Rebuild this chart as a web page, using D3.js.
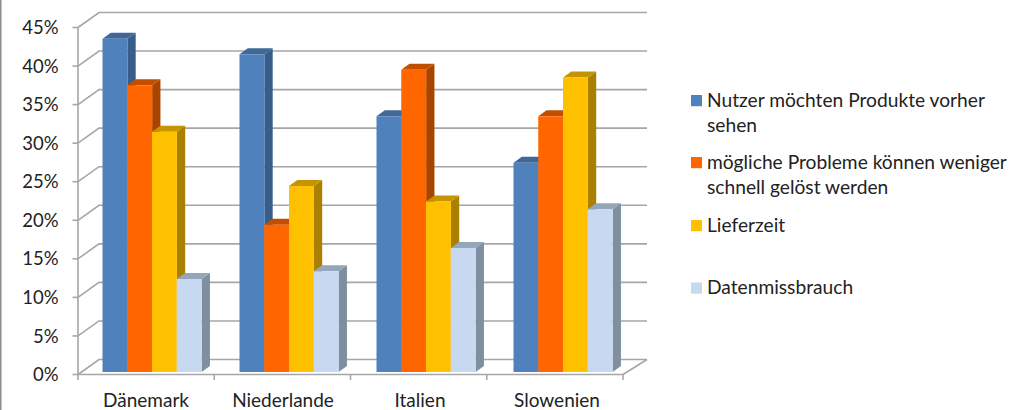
<!DOCTYPE html>
<html><head><meta charset="utf-8">
<script src="https://cdn.jsdelivr.net/npm/d3@7"></script>
<style>
html,body{margin:0;padding:0;background:#fff}
svg{display:block}
text{font-family:Lato,"Open Sans",sans-serif;fill:#222}
</style></head><body>
<svg id="c" width="1030" height="410"></svg>
<script>
const categories=["Dänemark","Niederlande","Italien","Slowenien"];
const seriesNames=["Nutzer möchten Produkte vorher sehen","mögliche Probleme können weniger schnell gelöst werden","Lieferzeit","Datenmissbrauch"];
const nutzer=[43,41,33,27];
const probleme=[37,19,39,33];
const lieferzeit=[31,24,22,38];
const datenmissbrauch=[12,13,16,21];
const tickValues=[0,5,10,15,20,25,30,35,40,45];
const legendLines=[["Nutzer möchten Produkte vorher","sehen"],["mögliche Probleme können weniger","schnell gelöst werden"],["Lieferzeit"],["Datenmissbrauch"]];
const legendY=[100,162,225,287.5];
const seriesValues=[nutzer,probleme,lieferzeit,datenmissbrauch];
const front=["#4f81bd","#ff6600","#ffc000","#c6d9f1"];
const side=["#385d8a","#a84300","#a98000","#7f8fa0"];
const topc=["#3f6797","#c24e00","#c49500","#95a6ba"];
const svg=d3.select("#c");
svg.append("rect").attr("x",0).attr("y",0).attr("width",1.5).attr("height",410).attr("fill","#8c8c8c");
const x=d3.scaleBand().domain(categories).range([78,623]);
const xBar=d3.scaleBand().domain(categories).range([78,626]);
const y=d3.scaleLinear().domain([0,45]).range([374.5,27.5]);
const yBar=d3.scaleLinear().domain([0,45]).range([372,23.3]);
const dx=21,dy=-15;
const grid="#a6a6a6";
const g=svg.append("g").attr("fill","none").attr("stroke",grid).attr("stroke-width",1.6);
g.selectAll("path.g").data(tickValues).join("path").attr("class","g")
 .attr("d",t=>`M${x.range()[0]},${y(t)}L${x.range()[0]+dx},${y(t)+dy}H${x.range()[1]+24}`);
g.append("path").attr("d",`M${x.range()[1]},${y(0)}L${x.range()[1]+24},${y(0)+dy}`);
g.append("path").attr("d",`M${x.range()[0]},${y(45)}V${y(0)}`);
g.append("path").attr("d",`M${x.range()[0]},${y(0)}H${x.range()[1]}`);
g.selectAll("path.tx").data(d3.range(5)).join("path").attr("class","tx")
 .attr("d",i=>`M${78+i*x.bandwidth()},${y(0)}v5.5`);
g.selectAll("path.ty").data(tickValues).join("path").attr("class","ty")
 .attr("d",t=>`M${72.5},${y(t)}H78`);
const bw=24.9,offs=24.75,bdx=8.3,bdy=-6;
categories.forEach((c,ci)=>{
  const x0=xBar(c)+24.5;
  seriesValues.forEach((vals,s)=>{
    const v=vals[ci],l=x0+s*offs,t=yBar(v),b=yBar(0);
    const gb=svg.append("g");
    gb.append("path").attr("fill",side[s]).attr("d",`M${l+bw},${t}l${bdx},${bdy}V${b+bdy}l${-bdx},${-bdy}Z`);
    gb.append("path").attr("fill",topc[s]).attr("d",`M${l},${t}l${bdx},${bdy}h${bw}l${-bdx},${-bdy}Z`);
    gb.append("rect").attr("x",l).attr("y",t).attr("width",bw).attr("height",b-t).attr("fill",front[s]);
  });
});
svg.selectAll("text.t").data(tickValues).join("text").attr("class","t")
 .attr("x",58.5).attr("y",t=>y(t)+6.6).attr("text-anchor","end").attr("font-size",18.5)
 .text(t=>t+"%");
svg.selectAll("text.c").data(categories).join("text").attr("class","c")
 .attr("x",c=>xBar(c)+xBar.bandwidth()/2-0.5).attr("y",407).attr("text-anchor","middle").attr("font-size",19)
 .text(c=>c);
legendLines.forEach((ls,i)=>{
  svg.append("rect").attr("x",691).attr("y",legendY[i]-5).attr("width",11).attr("height",11.2).attr("fill",front[i]);
  ls.forEach((l,j)=>svg.append("text").attr("x",707).attr("y",legendY[i]+6.6+j*25).attr("font-size",19.2).text(l));
});
</script>
</body></html>
